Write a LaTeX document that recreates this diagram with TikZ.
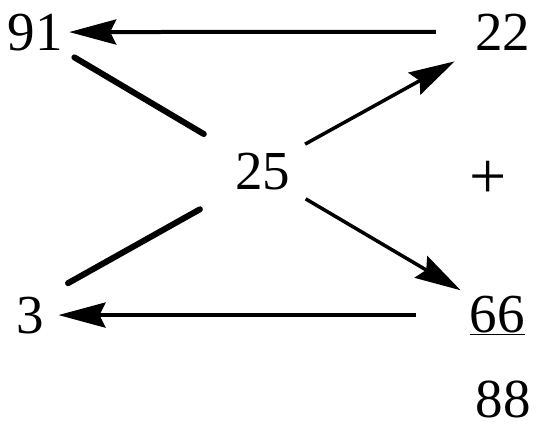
\documentclass[tikz,border=0pt]{standalone}
\usepackage{fontspec}
\setmainfont{Liberation Serif}
\usetikzlibrary{arrows.meta}

\begin{document}
\begin{tikzpicture}[x=1pt, y=-1pt,
    num/.style={inner sep=0pt, anchor=base, font=\fontsize{55}{62}\selectfont},
    arrow/.style={-{Stealth[length=47pt, width=25pt, inset=6pt]}, line width=4pt},
    slant/.style={-{Stealth[length=46pt, width=25pt, inset=6pt]}, line width=3.5pt},
    bar/.style={line width=6pt, line cap=round}
  ]
  \useasboundingbox (0,0) rectangle (538,429);

  \node[num] (n91) at (35.5,50)  {91};
  \node[num] (n22) at (502.5,50) {22};
  \node[num] (n25) at (262.5,189) {25};
  \node[num, anchor=center, font=\fontsize{66}{70}\selectfont] (plus) at (488.5,180) {+};
  \node[num] (n3)  at (30.5,333) {3};
  \node[num] (n66) at (497,332)  {\underline{66}};
  \node[num] (n88) at (503,417)  {88};

  \draw[arrow, shorten <=39pt, shorten >=6pt] (n22.west) -- (n91.east);
  \draw[arrow, shorten <=53pt, shorten >=14pt] (n66.west |- n3.east) -- (n3.east);

  \draw[slant, shorten <=17pt, shorten >=23pt] (n25.north east) -- (n22.south west);
  \draw[slant, shorten <=18pt, shorten >=10pt] (n25.south east) -- (n66.north west);

  \draw[bar, shorten <=13pt, shorten >=36pt] (n91.south east) -- (n25.north west);
  \draw[bar, shorten <=27pt, shorten >=40pt] (n3.north east) -- (n25.south west);
\end{tikzpicture}
\end{document}
